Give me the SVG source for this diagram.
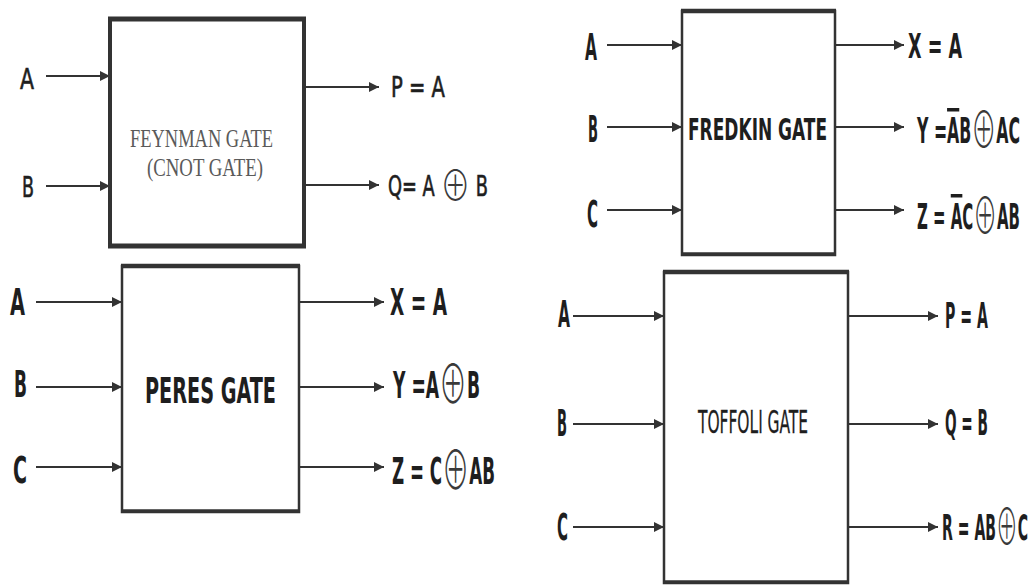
<svg xmlns="http://www.w3.org/2000/svg" width="1032" height="586" viewBox="0 0 1032 586">
<style>
.bg{fill:#ffffff}
.box{fill:#ffffff;stroke:#333333;stroke-width:2.5}
.edge{stroke:#333333;stroke-width:4.5;fill:none}
.wire{stroke:#333333;stroke-width:2;fill:none;marker-end:url(#ah)}
.lb{font-family:"Liberation Sans Narrow","DejaVu Sans Condensed","Liberation Sans",sans-serif;font-weight:bold;fill:#1e1e1e}
.lr{font-family:"Liberation Sans Narrow","DejaVu Sans Condensed","Liberation Sans",sans-serif;font-weight:normal;fill:#1e1e1e;stroke:#1e1e1e;stroke-width:0.6}
.serif{font-family:"Liberation Serif","DejaVu Serif",serif;fill:#5a5a5a}
.xor{font-family:"Noto Sans CJK SC","DejaVu Sans",sans-serif;font-weight:300;fill:#3a3a3a;stroke:none}
.bar{text-decoration:overline}
</style>
<defs>
<marker id="ah" markerUnits="userSpaceOnUse" markerWidth="11" markerHeight="11" refX="10" refY="5" orient="auto">
<path d="M0,0 L10,5 L0,10 z" fill="#333333"/>
</marker>
</defs>
<rect class="bg" x="0" y="0" width="1032" height="586"/>

<g id="connectors">
<line class="wire" x1="46" y1="76" x2="110" y2="76"/>
<line class="wire" x1="46" y1="186" x2="110" y2="186"/>
<line class="wire" x1="304" y1="87" x2="379" y2="87"/>
<line class="wire" x1="304" y1="185" x2="379" y2="185"/>
<line class="wire" x1="36" y1="302" x2="122" y2="302"/>
<line class="wire" x1="36" y1="387" x2="122" y2="387"/>
<line class="wire" x1="36" y1="467" x2="122" y2="467"/>
<line class="wire" x1="299" y1="302" x2="384" y2="302"/>
<line class="wire" x1="299" y1="387" x2="384" y2="387"/>
<line class="wire" x1="299" y1="467" x2="384" y2="467"/>
<line class="wire" x1="607" y1="45" x2="682" y2="45"/>
<line class="wire" x1="607" y1="127" x2="682" y2="127"/>
<line class="wire" x1="607" y1="210" x2="682" y2="210"/>
<line class="wire" x1="835" y1="45" x2="904" y2="45"/>
<line class="wire" x1="835" y1="127" x2="904" y2="127"/>
<line class="wire" x1="835" y1="210" x2="904" y2="210"/>
<line class="wire" x1="573" y1="316" x2="664" y2="316"/>
<line class="wire" x1="573" y1="424" x2="664" y2="424"/>
<line class="wire" x1="573" y1="527" x2="664" y2="527"/>
<line class="wire" x1="848" y1="316" x2="938" y2="316"/>
<line class="wire" x1="848" y1="424" x2="938" y2="424"/>
<line class="wire" x1="848" y1="527" x2="938" y2="527"/>
</g>

<g id="feynman">
<rect class="box" x="110" y="19" width="194" height="227" style="stroke-width:4"/>
<line class="edge" x1="108" y1="19" x2="306" y2="19" style="stroke-width:5"/>
<line class="edge" x1="108" y1="246" x2="306" y2="246" style="stroke-width:5"/>
<text class="serif" x="130" y="147" font-size="26" textLength="143" lengthAdjust="spacingAndGlyphs">FEYNMAN GATE</text>
<text class="serif" x="147" y="176" font-size="26" textLength="116" lengthAdjust="spacingAndGlyphs">(CNOT GATE)</text>
<text class="lr" x="20" y="89" font-size="29" textLength="14" lengthAdjust="spacingAndGlyphs">A</text>
<text class="lr" x="22" y="197" font-size="29" textLength="12" lengthAdjust="spacingAndGlyphs">B</text>
<text class="lr" x="391" y="97" font-size="28" textLength="54" lengthAdjust="spacingAndGlyphs">P =  A</text>
<text class="lr" x="388" y="196" font-size="28" textLength="100" lengthAdjust="spacingAndGlyphs">Q= A <tspan class="xor" font-size="42" font-weight="500" dy="5">⊕</tspan><tspan dy="-5"> B</tspan></text>
</g>

<g id="peres">
<rect class="box" x="122" y="266" width="177" height="246"/>
<line class="edge" x1="121" y1="266" x2="300" y2="266"/>
<line class="edge" x1="121" y1="511" x2="300" y2="511" style="stroke-width:3.5"/>
<text class="lb" x="145" y="403" font-size="36" textLength="131" lengthAdjust="spacingAndGlyphs">PERES GATE</text>
<text class="lb" x="10" y="315" font-size="38" textLength="15" lengthAdjust="spacingAndGlyphs">A</text>
<text class="lb" x="14" y="397" font-size="38" textLength="13" lengthAdjust="spacingAndGlyphs">B</text>
<text class="lb" x="13" y="483" font-size="38" textLength="14" lengthAdjust="spacingAndGlyphs">C</text>
<text class="lb" x="390" y="315" font-size="37" textLength="57" lengthAdjust="spacingAndGlyphs">X = A</text>
<text class="lb" x="393" y="398" font-size="37" textLength="87" lengthAdjust="spacingAndGlyphs">Y =A<tspan class="xor" font-size="54" dy="6">⊕</tspan><tspan dy="-6">B</tspan></text>
<text class="lb" x="392" y="484" font-size="37" textLength="103" lengthAdjust="spacingAndGlyphs">Z = C<tspan class="xor" font-size="54" dy="6">⊕</tspan><tspan dy="-6">AB</tspan></text>
</g>

<g id="fredkin">
<rect class="box" x="682" y="11" width="153" height="244"/>
<line class="edge" x1="681" y1="11" x2="836" y2="11"/>
<line class="edge" x1="681" y1="254" x2="836" y2="254" style="stroke-width:3.5"/>
<text class="lb" x="688" y="140" font-size="30" textLength="139" lengthAdjust="spacingAndGlyphs">FREDKIN GATE</text>
<text class="lb" x="585" y="60" font-size="38" textLength="12" lengthAdjust="spacingAndGlyphs">A</text>
<text class="lb" x="588" y="142" font-size="38" textLength="10" lengthAdjust="spacingAndGlyphs">B</text>
<text class="lb" x="587" y="227" font-size="38" textLength="11" lengthAdjust="spacingAndGlyphs">C</text>
<text class="lb" x="908" y="58" font-size="34" textLength="54" lengthAdjust="spacingAndGlyphs">X = A</text>
<text class="lb" x="917" y="143" font-size="35" textLength="103" lengthAdjust="spacingAndGlyphs">Y =<tspan class="bar">A</tspan>B<tspan class="xor" font-size="50" dy="5">⊕</tspan><tspan dy="-5">AC</tspan></text>
<text class="lb" x="917" y="229" font-size="35" textLength="103" lengthAdjust="spacingAndGlyphs">Z = <tspan class="bar">A</tspan>C<tspan class="xor" font-size="50" dy="5">⊕</tspan><tspan dy="-5">AB</tspan></text>
</g>

<g id="toffoli">
<rect class="box" x="664" y="272" width="184" height="311"/>
<line class="edge" x1="663" y1="272" x2="849" y2="272"/>
<line class="edge" x1="663" y1="582" x2="849" y2="582" style="stroke-width:3.5"/>
<text class="lr" x="698" y="433" font-size="32" textLength="110" lengthAdjust="spacingAndGlyphs" style="stroke-width:0.3">TOFFOLI GATE</text>
<text class="lb" x="558" y="327" font-size="37" textLength="12" lengthAdjust="spacingAndGlyphs">A</text>
<text class="lb" x="557" y="436" font-size="37" textLength="10" lengthAdjust="spacingAndGlyphs">B</text>
<text class="lb" x="557" y="540" font-size="37" textLength="11" lengthAdjust="spacingAndGlyphs">C</text>
<text class="lb" x="945" y="328" font-size="36" textLength="43" lengthAdjust="spacingAndGlyphs">P = A</text>
<text class="lb" x="945" y="435" font-size="36" textLength="43" lengthAdjust="spacingAndGlyphs">Q = B</text>
<text class="lb" x="942" y="540" font-size="36" textLength="86" lengthAdjust="spacingAndGlyphs">R = AB<tspan class="xor" font-size="50" dy="5">⊕</tspan><tspan dy="-5">C</tspan></text>
</g>
</svg>
